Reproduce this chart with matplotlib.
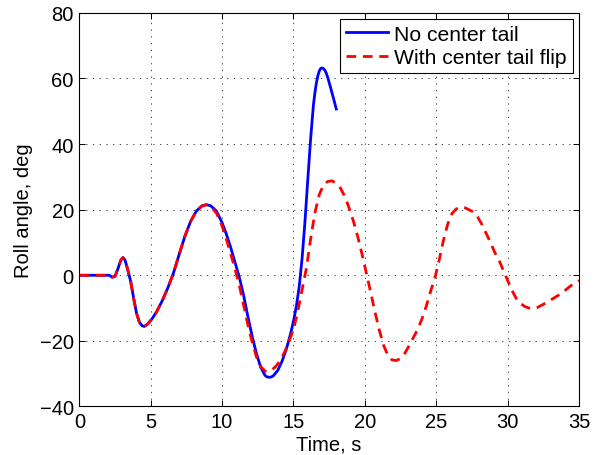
import numpy as np
import matplotlib.pyplot as plt

plt.rcParams['font.family'] = ['Liberation Sans', 'DejaVu Sans']
plt.rcParams['font.size'] = 14.5

# roll response without the center tail (run stops at 18 s)
t_no_tail = [0, 2.1, 2.3, 2.5, 2.7, 2.9, 3.05, 3.2, 3.4, 3.6, 3.8, 4.0, 4.2, 4.4,
             4.55, 4.8, 5.1, 5.4, 5.8, 6.2, 6.6, 7.0, 7.4, 7.8, 8.2, 8.6, 8.9,
             9.2, 9.6, 10.0, 10.3, 10.6, 10.9, 11.2, 11.5, 11.8, 12.1, 12.4,
             12.7, 13.0, 13.15, 13.3, 13.45, 13.6, 13.9, 14.2, 14.5, 14.8, 15.0,
             15.2, 15.4, 15.6, 15.8, 16.0, 16.2, 16.4, 16.5, 16.6, 16.7, 16.8,
             16.9, 17.0, 17.1, 17.2, 17.3, 17.4, 17.6, 17.8, 18.0]
roll_no_tail = [0, 0, -0.6, -0.3, 2.0, 4.6, 5.4, 4.6, 1.5, -2.0, -7.0, -11.5,
                -14.3, -15.4, -15.6, -14.8, -13.2, -11.2, -7.8, -3.8, 0.8, 6.5,
                12.0, 16.5, 19.6, 21.2, 21.5, 21.2, 19.6, 16.0, 12.5, 8.5, 4.0,
                -0.5, -6.0, -12.5, -18.5, -23.8, -28.0, -30.5, -31.0, -31.1,
                -31.0, -30.6, -29.0, -26.2, -22.5, -17.8, -14.0, -9.5, -3.5,
                5.0, 16.0, 29.0, 41.5, 52.0, 55.6, 58.5, 60.7, 62.2, 63.0, 63.2,
                63.0, 62.5, 61.6, 60.3, 57.2, 54.0, 50.7]

# roll response with the center tail flip
t_flip = [0, 2.1, 2.3, 2.5, 2.7, 2.9, 3.05, 3.2, 3.4, 3.6, 3.8, 4.0, 4.2, 4.4,
          4.55, 4.8, 5.1, 5.4, 5.8, 6.2, 6.6, 7.0, 7.4, 7.8, 8.2, 8.6, 8.9, 9.2,
          9.6, 10.0, 10.3, 10.6, 10.9, 11.2, 11.5, 11.8, 12.1, 12.4, 12.7, 13.0,
          13.2, 13.5, 13.8, 14.1, 14.4, 14.7, 15.0, 15.3, 15.6, 15.9, 16.2,
          16.5, 16.8, 17.1, 17.4, 17.7, 18.0, 18.3, 18.6, 18.9, 19.2, 19.5,
          19.8, 20.1, 20.4, 20.7, 21.0, 21.3, 21.6, 21.9, 22.2, 22.5, 22.8,
          23.1, 23.4, 23.7, 24.0, 24.3, 24.6, 24.9, 25.2, 25.5, 25.8, 26.1,
          26.4, 26.7, 27.0, 27.3, 27.6, 27.9, 28.2, 28.5, 28.8, 29.1, 29.4,
          29.7, 30.0, 30.3, 30.6, 30.9, 31.2, 31.5, 31.8, 32.1, 32.4, 32.7,
          33.0, 33.3, 33.6, 33.9, 34.2, 34.5, 34.8, 35.0]
roll_flip = [0, 0, -0.6, -0.3, 2.0, 4.6, 5.4, 4.6, 1.5, -2.0, -7.0, -11.5,
             -14.3, -15.4, -15.6, -14.8, -13.2, -11.2, -7.8, -3.8, 0.8, 6.5,
             12.0, 16.5, 19.6, 21.2, 21.5, 21.0, 19.0, 15.0, 11.0, 6.5, 2.0,
             -3.0, -9.0, -15.0, -20.3, -24.8, -27.8, -29.2, -29.4, -28.8,
             -27.6, -25.8, -23.2, -20.0, -16.5, -11.0, -4.5, 2.0, 11.0, 19.0,
             24.5, 27.5, 28.6, 28.8, 28.0, 26.5, 24.0, 20.5, 16.5, 11.8, 6.5,
             0.8, -5.0, -11.0, -16.5, -21.2, -24.3, -25.8, -26.0, -25.4, -23.8,
             -21.5, -19.0, -16.5, -13.3, -9.5, -5.0, -1.0, 4.5, 10.5, 15.5,
             18.8, 20.2, 20.8, 20.6, 20.0, 19.3, 17.8, 15.5, 12.8, 10.0, 7.0,
             4.6, 1.5, -1.5, -4.5, -7.0, -8.6, -9.5, -10.0, -10.1, -9.8, -9.1,
             -8.4, -7.6, -6.8, -6.0, -5.0, -4.0, -3.0, -2.2, -1.6]

fig = plt.figure(figsize=(5.97, 4.56), dpi=100)
ax = fig.add_axes([0.133, 0.1064, 0.8367, 0.8632])

ax.plot(t_no_tail, roll_no_tail, color='#0000ff', lw=2, label='No center tail')
ax.plot(t_flip, roll_flip, color='#ff0000', lw=2, dashes=(3.5, 2.4),
        label='With center tail flip')

ax.set_xlim(0, 35)
ax.set_ylim(-40, 80)
ax.set_xticks(np.arange(0, 36, 5))
ax.set_yticks(np.arange(-40, 81, 20))
ax.grid(True, linestyle=(0, (1.3, 5.6)), color='#404040', linewidth=0.7)
ax.tick_params(direction='in', top=True, right=True, length=4, width=0.7,
               labelsize=14.5, pad=4)
for s in ax.spines.values():
    s.set_linewidth(0.8)

ax.set_xlabel('Time, s', fontsize=14.5)
ax.set_ylabel('Roll angle, deg', fontsize=14.5)
ax.xaxis.set_label_coords(0.5, -0.072)
ax.yaxis.set_label_coords(-0.093, 0.5)

leg = ax.legend(loc='upper right', fancybox=False, framealpha=1,
                edgecolor='black', handlelength=2.0, borderaxespad=0.28,
                borderpad=0.28, labelspacing=0.22, handletextpad=0.3,
                fontsize=15.2)
leg.get_frame().set_linewidth(0.8)

fig.savefig('out.png', dpi=100)
